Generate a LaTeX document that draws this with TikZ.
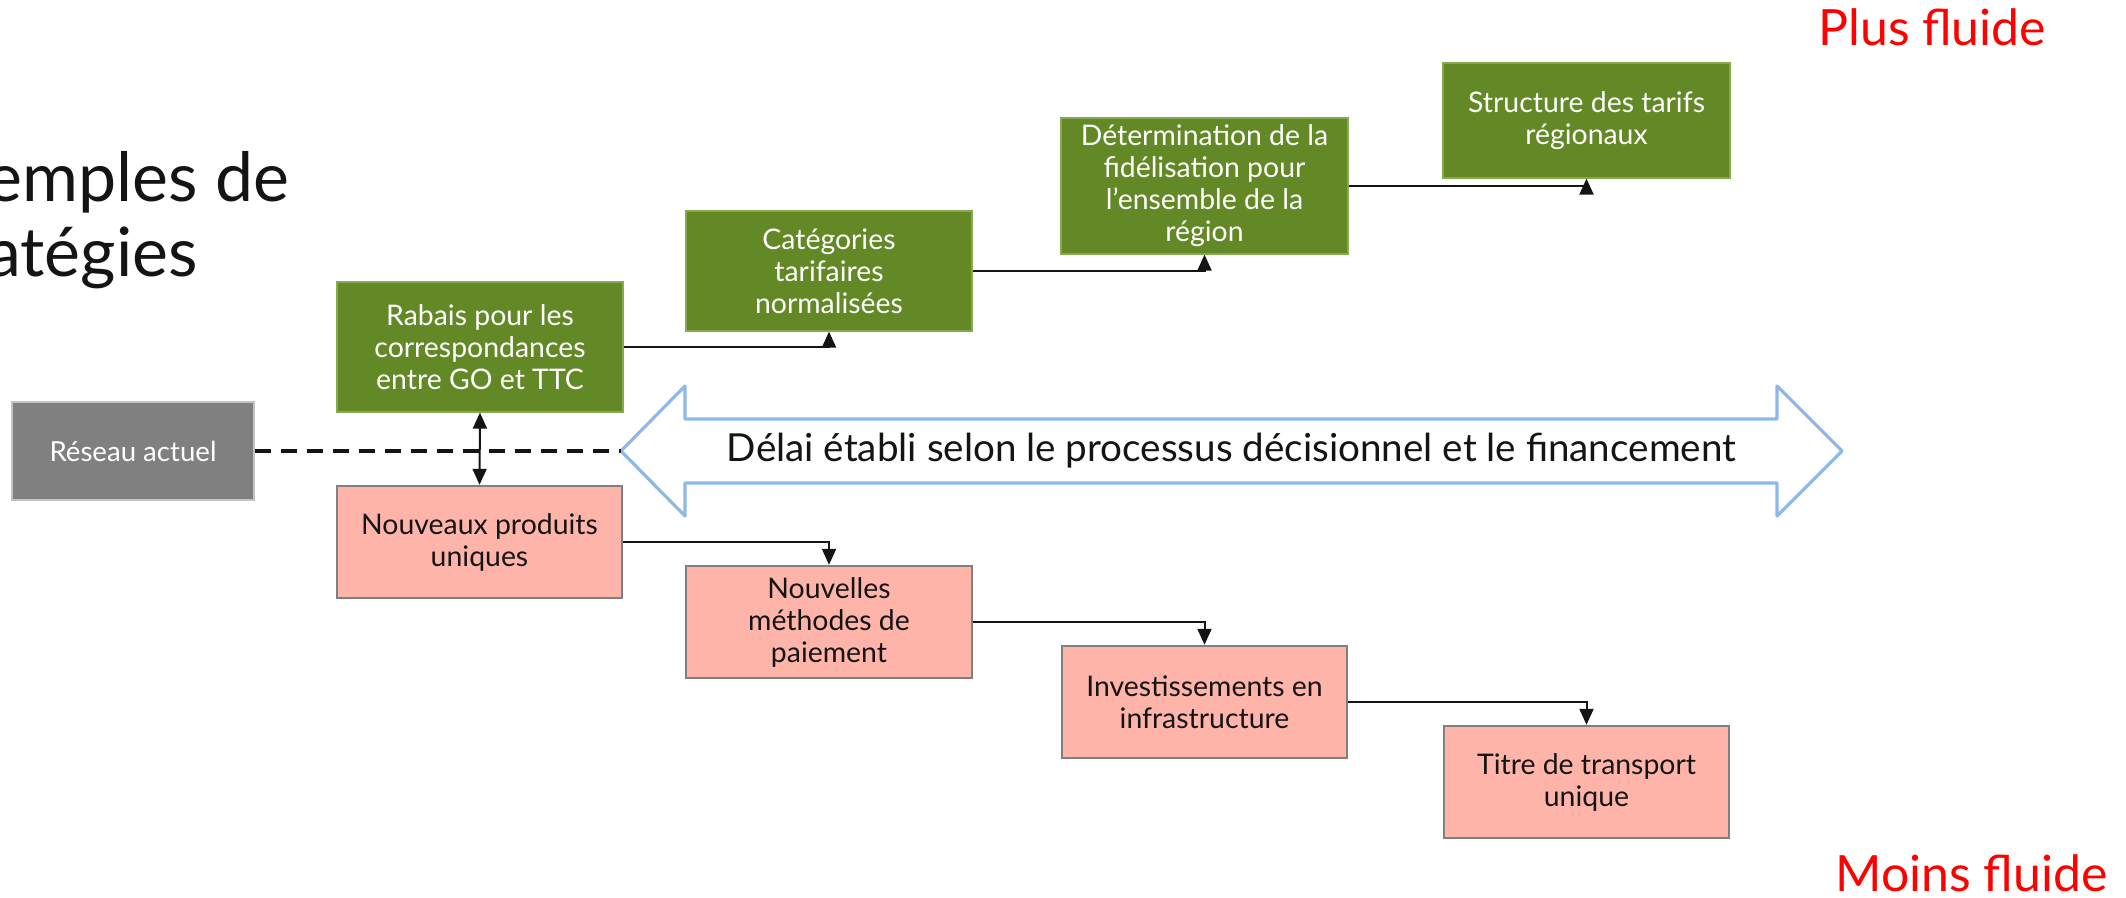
\documentclass[tikz,border=0pt]{standalone}
\usepackage{fontspec}
\setmainfont{Lato}
\usetikzlibrary{arrows.meta}
\definecolor{gbox}{RGB}{99,137,38}
\definecolor{gborder}{RGB}{135,170,80}
\definecolor{pbox}{RGB}{255,180,170}
\definecolor{pborder}{RGB}{128,128,128}
\definecolor{rbox}{RGB}{128,128,128}
\definecolor{rborder}{RGB}{195,195,195}
\definecolor{blueline}{RGB}{141,184,232}
\definecolor{ink}{RGB}{20,20,20}
\tikzset{
  box/.style={rectangle, inner sep=0pt, align=center, font=\fontsize{14.2}{16}\selectfont},
  greenbox/.style={box, fill=gbox, draw=gborder, line width=0.6pt, text=white},
  pinkbox/.style={box, fill=pbox, draw=pborder, line width=1.2pt, text=ink},
  graybox/.style={box, fill=rbox, draw=rborder, line width=0.8pt, text=white, font=\fontsize{13.8}{16}\selectfont},
  conn/.style={draw=ink, line width=1pt, -{Triangle[length=8pt,width=7pt]}},
  bothconn/.style={draw=ink, line width=1pt, {Triangle[length=8pt,width=7pt]}-{Triangle[length=8pt,width=7pt]}},
  dashline/.style={draw=ink, line width=2pt, dash pattern=on 8pt off 5pt},
  bigarrow/.style={draw=blueline, line width=1.6pt, line join=round, fill=white},
  redlabel/.style={text=red, font=\fontsize{25}{30}\selectfont, inner sep=0pt},
  titletext/.style={text=ink, font=\fontsize{34}{40}\selectfont, inner sep=0pt}
}
\begin{document}
\begin{tikzpicture}[x=0.5pt, y=-0.5pt]
\useasboundingbox (0,0) rectangle (2126,898);
\clip (0,0) rectangle (2126,898);

% title (cut off at the left, as in the reference)
\node[titletext, anchor=base east] (title1) at (290,202) {Exemples de};
\node[titletext, anchor=base east] (title2) at (198,277) {stratégies};

% fluidity labels
\node[redlabel, anchor=base west] (plus) at (1818,46) {Plus fluide};
\node[redlabel, anchor=base west] (moins) at (1835,891) {Moins fluide};

% big double arrow
\draw[bigarrow] (621,451) -- (685,386) -- (685,419) -- (1777,419) -- (1777,386) -- (1842,451)
  -- (1777,516) -- (1777,483) -- (685,483) -- (685,516) -- cycle;
\coordinate (ltip) at (621,451);
\node[inner sep=0pt, text=ink, font=\fontsize{19.3}{22}\selectfont] (delai) at (1231.5,451)
  {Délai établi selon le processus décisionnel et le financement};

% boxes
\node[graybox, minimum width=121pt, minimum height=49pt] (reseau) at (133,451) {Réseau actuel};
\node[greenbox, minimum width=143pt, minimum height=65pt] (rabais) at (480,347)
  {Rabais pour les\\correspondances\\entre GO et TTC};
\node[greenbox, minimum width=143pt, minimum height=60pt] (cat) at (829,271)
  {Catégories\\tarifaires\\normalisées};
\node[greenbox, minimum width=143.5pt, minimum height=68pt] (det) at (1204.5,186)
  {Détermination de la\\fidélisation pour\\l{\char"0027}ensemble de la\\région};
\node[greenbox, minimum width=143.5pt, minimum height=57.5pt] (struct) at (1586.5,120.5)
  {Structure des tarifs\\régionaux};
\node[pinkbox, minimum width=142.5pt, minimum height=56pt] (nouv) at (479.5,542)
  {Nouveaux produits\\uniques};
\node[pinkbox, minimum width=143pt, minimum height=56pt] (meth) at (829,622)
  {Nouvelles\\méthodes de\\paiement};
\node[pinkbox, minimum width=142.5pt, minimum height=56pt] (inv) at (1204.5,702)
  {Investissements en\\infrastructure};
\node[pinkbox, minimum width=142.5pt, minimum height=56pt] (titre) at (1586.5,782)
  {Titre de transport\\unique};

% connectors
\draw[dashline] (reseau.east) -- (ltip);
\draw[bothconn] (rabais.south) -- (nouv.north);
\draw[conn] (rabais.east) -| (cat.south);
\draw[conn] (cat.east) -| (det.south);
\draw[conn] (det.east) -| (struct.south);
\draw[conn] (nouv.east) -| (meth.north);
\draw[conn] (meth.east) -| (inv.north);
\draw[conn] (inv.east) -| (titre.north);
\end{tikzpicture}
\end{document}
